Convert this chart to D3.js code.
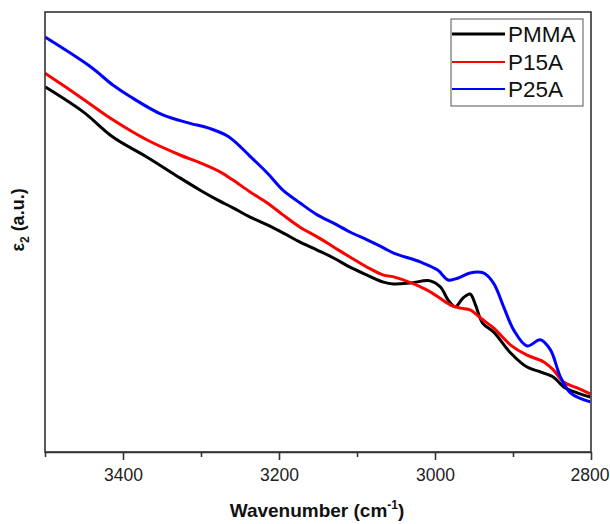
<!DOCTYPE html>
<html><head><meta charset="utf-8">
<script src="https://cdn.jsdelivr.net/npm/d3@7"></script>
<style>body{margin:0;background:#fff}svg{display:block}</style>
</head><body>
<svg id="c" width="610" height="524"></svg>
<script>
const seriesNames = ["PMMA", "P15A", "P25A"];
const seriesColors = ["#000000", "#ff0000", "#0000ff"];
const majorTicks = [3400, 3200, 3000, 2800];
const minorTicks = [3500, 3300, 3100, 2900];
const xLabel = "Wavenumber (cm";
const yLabel = "ε";

const wnPMMA = [3500,3451,3413,3369,3327,3301,3279,3259,3237,3215,3195,3173,3151,3130,3109,3087,3066,3053,3032,3006,2993,2983,2974,2964,2955,2948,2939,2925,2903,2882,2865,2848,2835,2817,2801];
const valPMMA = [8.30,7.73,7.16,6.70,6.23,5.95,5.73,5.55,5.34,5.16,4.98,4.77,4.59,4.41,4.20,4.02,3.86,3.82,3.84,3.89,3.75,3.45,3.30,3.50,3.59,3.34,2.93,2.73,2.25,1.93,1.82,1.70,1.48,1.34,1.25];

const wnP15A = [3500,3455,3413,3369,3327,3301,3275,3259,3237,3215,3195,3173,3151,3130,3109,3087,3066,3053,3010,2980,2967,2955,2942,2925,2903,2882,2861,2848,2835,2817,2801];
const valP15A = [8.61,8.07,7.55,7.09,6.75,6.57,6.36,6.18,5.91,5.66,5.39,5.11,4.89,4.66,4.43,4.20,4.02,3.98,3.68,3.34,3.27,3.23,3.05,2.82,2.43,2.20,2.05,1.86,1.59,1.45,1.32];

const wnP25A = [3500,3442,3413,3391,3349,3314,3290,3265,3237,3215,3195,3173,3151,3130,3109,3087,3066,3053,3019,2997,2983,2971,2955,2938,2925,2912,2899,2882,2865,2852,2839,2826,2801];
const valP25A = [9.43,8.76,8.34,8.08,7.66,7.47,7.36,7.17,6.72,6.34,5.95,5.66,5.39,5.20,5.00,4.82,4.64,4.52,4.32,4.14,3.91,3.95,4.07,4.07,3.84,3.30,2.77,2.41,2.55,2.32,1.70,1.34,1.14];

const data = [
  wnPMMA.map((w,i)=>({w, v:valPMMA[i]})),
  wnP15A.map((w,i)=>({w, v:valP15A[i]})),
  wnP25A.map((w,i)=>({w, v:valP25A[i]}))
];

const svg = d3.select("#c");
const L = 45, R = 591, T = 12, B = 452;
const x = d3.scaleLinear().domain([3500, 2800]).range([L, R]);
const y = d3.scaleLinear().domain([0, 10]).range([B, T]);

svg.append("defs").append("clipPath").attr("id","cp")
  .append("rect").attr("x",L).attr("y",T).attr("width",R-L).attr("height",B-T);

const line = d3.line().x(d=>x(d.w)).y(d=>y(d.v)).curve(d3.curveCatmullRom.alpha(0.5));
const g = svg.append("g").attr("clip-path","url(#cp)");
[0,1,2].forEach(i=>{
  g.append("path").datum(data[i]).attr("d", line)
    .attr("fill","none").attr("stroke", seriesColors[i])
    .attr("stroke-width", 3).attr("stroke-linejoin","round");
});

// frame
svg.append("rect").attr("x",L).attr("y",T).attr("width",R-L).attr("height",B-T)
  .attr("fill","none").attr("stroke","#333").attr("stroke-width",1.6);

// x axis
const axis = d3.axisBottom(x).tickValues(majorTicks).tickSize(8).tickSizeOuter(0).tickFormat(d3.format("d"));
const ax = svg.append("g").attr("transform",`translate(0,${B})`).call(axis);
ax.select(".domain").attr("stroke","#333").attr("stroke-width",1.6);
ax.selectAll(".tick line").attr("stroke","#333").attr("stroke-width",1.6);
ax.selectAll(".tick text").attr("font-family","Liberation Sans, Arial, sans-serif")
  .attr("font-size",17.5).attr("fill","#222").attr("dy","1.05em")
  .attr("dx", d => d === 2800 ? -1.5 : 0);
const axm = d3.axisBottom(x).tickValues(minorTicks).tickSize(5).tickSizeOuter(0).tickFormat("");
const am = svg.append("g").attr("transform",`translate(0,${B})`).call(axm);
am.select(".domain").remove();
am.selectAll(".tick line").attr("stroke","#333").attr("stroke-width",1.6);

// x title
const xt = svg.append("text").attr("x",(L+R)/2 - 1).attr("y",517).attr("text-anchor","middle")
  .attr("font-family","Liberation Sans, Arial, sans-serif").attr("font-weight","bold")
  .attr("font-size",19).attr("fill","#111");
xt.append("tspan").text(xLabel);
xt.append("tspan").attr("dy",-8).attr("font-size",12).text("-1");
xt.append("tspan").attr("dy",8).text(")");

// y title
const yt = svg.append("text").attr("transform","translate(24,220) rotate(-90)").attr("text-anchor","middle")
  .attr("font-family","Liberation Sans, Arial, sans-serif").attr("font-weight","bold")
  .attr("font-size",18).attr("fill","#111");
yt.append("tspan").text(yLabel);
yt.append("tspan").attr("dy",5).attr("font-size",12).text("2");
yt.append("tspan").attr("dy",-5).text(" (a.u.)");

// legend
const lg = svg.append("g");
lg.append("rect").attr("x",451).attr("y",19).attr("width",132).attr("height",87)
  .attr("fill","#fff").attr("stroke","#555").attr("stroke-width",1);
const rows = [34, 62, 89];
seriesNames.forEach((n,i)=>{
  lg.append("line").attr("x1",452).attr("x2",505).attr("y1",rows[i]).attr("y2",rows[i])
    .attr("stroke",seriesColors[i]).attr("stroke-width", i===0?3:2.2);
  lg.append("text").attr("x",508).attr("y",rows[i]+8).text(n)
    .attr("font-family","Liberation Sans, Arial, sans-serif").attr("font-size",22.5).attr("fill","#111");
});
</script>
</body></html>
